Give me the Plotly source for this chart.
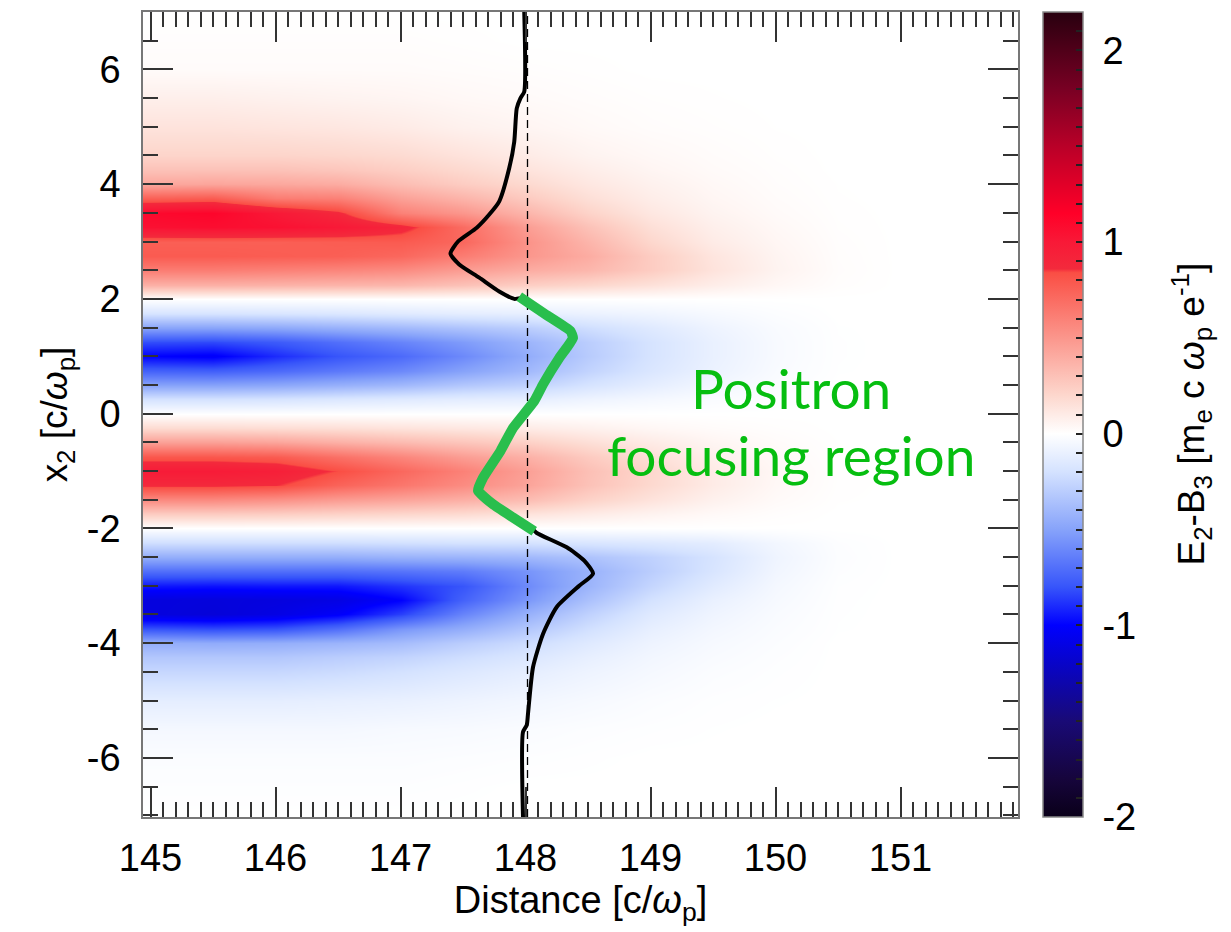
import numpy as np
import plotly.graph_objects as go

# ---------------- data ----------------
x_cols = [145, 145.5, 146, 146.5, 147, 147.5, 148, 148.5, 149, 149.5, 150, 150.5, 151, 152]

y_rows = [-7, -6.5, -6, -5.5, -5, -4.5,
          -4.25, -4, -3.75, -3.5, -3.25, -3, -2.75, -2.5, -2.25, -2,
          -1.75, -1.5, -1.25, -1, -0.75, -0.5, -0.25, 0,
          0.25, 0.5, 0.75, 1, 1.25, 1.5, 1.75, 2,
          2.25, 2.5, 2.75, 3, 3.25, 3.5, 3.75, 4, 4.25, 4.5,
          5, 5.5, 6, 6.5, 7]

# E2-B3 profile along x2 for each distance column (same order as y_rows)
col_145_0 = [0, -0.01, -0.02, -0.05, -0.12, -0.25,
             -0.33, -0.45, -0.8, -1.12, -1.12, -0.95, -0.7, -0.45, -0.22, 0,
             0.25, 0.55, 0.88, 0.98, 0.8, 0.45, 0.18, 0,
             -0.2, -0.5, -0.75, -1.0, -0.82, -0.5, -0.18, 0,
             0.38, 0.62, 0.78, 0.76, 1.05, 1.1, 0.75, 0.42, 0.3, 0.21,
             0.14, 0.08, 0.02, 0.01, 0]
col_145_5 = [0, -0.01, -0.02, -0.05, -0.12, -0.25,
             -0.33, -0.46, -0.82, -1.14, -1.13, -0.96, -0.7, -0.45, -0.22, 0,
             0.25, 0.55, 0.88, 0.98, 0.8, 0.45, 0.18, 0,
             -0.2, -0.5, -0.76, -1.02, -0.83, -0.5, -0.18, 0,
             0.38, 0.62, 0.78, 0.76, 1.07, 1.12, 0.77, 0.43, 0.3, 0.21,
             0.14, 0.08, 0.02, 0.01, 0]
col_146_0 = [0, -0.01, -0.02, -0.05, -0.12, -0.25,
             -0.33, -0.45, -0.8, -1.1, -1.12, -0.95, -0.7, -0.45, -0.22, 0,
             0.24, 0.52, 0.86, 0.95, 0.78, 0.43, 0.17, 0,
             -0.19, -0.48, -0.72, -0.9, -0.78, -0.48, -0.17, 0,
             0.37, 0.6, 0.77, 0.76, 1.05, 1.0, 0.62, 0.42, 0.3, 0.21,
             0.13, 0.07, 0.02, 0.01, 0]
col_146_5 = [0, -0.01, -0.02, -0.05, -0.11, -0.23,
             -0.3, -0.42, -0.7, -1.02, -1.1, -0.95, -0.7, -0.45, -0.22, 0,
             0.22, 0.47, 0.74, 0.84, 0.68, 0.38, 0.16, 0,
             -0.17, -0.44, -0.66, -0.8, -0.7, -0.44, -0.16, 0,
             0.36, 0.58, 0.76, 0.77, 1.0, 0.88, 0.6, 0.4, 0.28, 0.2,
             0.12, 0.06, 0.02, 0.01, 0]
col_147_0 = [0, -0.01, -0.02, -0.04, -0.1, -0.2,
             -0.27, -0.38, -0.55, -0.85, -1.0, -0.88, -0.68, -0.43, -0.21, 0,
             0.2, 0.43, 0.65, 0.72, 0.58, 0.33, 0.14, 0,
             -0.15, -0.4, -0.6, -0.72, -0.62, -0.4, -0.14, 0,
             0.35, 0.55, 0.72, 0.78, 0.9, 0.6, 0.45, 0.32, 0.24, 0.18,
             0.1, 0.05, 0.02, 0.01, 0]
col_147_5 = [0, -0.005, -0.015, -0.035, -0.08, -0.16,
             -0.22, -0.3, -0.45, -0.62, -0.75, -0.8, -0.65, -0.42, -0.2, 0,
             0.18, 0.38, 0.55, 0.6, 0.47, 0.28, 0.12, 0,
             -0.13, -0.33, -0.5, -0.6, -0.53, -0.35, -0.12, 0,
             0.3, 0.47, 0.62, 0.72, 0.7, 0.5, 0.36, 0.25, 0.19, 0.14,
             0.07, 0.035, 0.015, 0.005, 0]
col_148_0 = [0, 0, -0.01, -0.025, -0.06, -0.12,
             -0.17, -0.23, -0.33, -0.44, -0.55, -0.6, -0.56, -0.4, -0.2, 0,
             0.14, 0.32, 0.44, 0.46, 0.38, 0.23, 0.1, 0,
             -0.12, -0.28, -0.4, -0.46, -0.42, -0.3, -0.11, 0,
             0.24, 0.4, 0.5, 0.52, 0.47, 0.36, 0.26, 0.19, 0.14, 0.1,
             0.05, 0.025, 0.01, 0, 0]
col_148_5 = [0, 0, -0.005, -0.015, -0.04, -0.08,
             -0.11, -0.15, -0.21, -0.28, -0.36, -0.42, -0.43, -0.35, -0.18, 0,
             0.1, 0.22, 0.3, 0.31, 0.26, 0.16, 0.07, 0,
             -0.08, -0.19, -0.27, -0.31, -0.3, -0.22, -0.09, 0,
             0.2, 0.35, 0.4, 0.36, 0.3, 0.22, 0.16, 0.12, 0.09, 0.06,
             0.03, 0.015, 0.005, 0, 0]
col_149_0 = [0, 0, 0, -0.008, -0.02, -0.045,
             -0.06, -0.08, -0.11, -0.15, -0.2, -0.26, -0.3, -0.28, -0.16, 0,
             0.06, 0.14, 0.19, 0.2, 0.16, 0.1, 0.04, 0,
             -0.05, -0.12, -0.17, -0.19, -0.19, -0.15, -0.07, 0,
             0.15, 0.25, 0.25, 0.2, 0.16, 0.12, 0.09, 0.07, 0.05, 0.035,
             0.015, 0.007, 0, 0, 0]
col_149_5 = [0, 0, 0, -0.003, -0.008, -0.02,
             -0.03, -0.04, -0.055, -0.075, -0.1, -0.14, -0.18, -0.19, -0.13, 0,
             0.03, 0.07, 0.1, 0.1, 0.08, 0.05, 0.02, 0,
             -0.025, -0.06, -0.09, -0.1, -0.1, -0.08, -0.04, 0,
             0.09, 0.14, 0.13, 0.1, 0.08, 0.06, 0.045, 0.035, 0.025, 0.018,
             0.008, 0.003, 0, 0, 0]
col_150_0 = [0, 0, 0, 0, -0.003, -0.008,
             -0.012, -0.017, -0.023, -0.03, -0.04, -0.05, -0.065, -0.075, -0.06, 0,
             0.01, 0.025, 0.035, 0.04, 0.03, 0.02, 0.008, 0,
             -0.008, -0.02, -0.03, -0.035, -0.035, -0.03, -0.015, 0,
             0.04, 0.06, 0.055, 0.045, 0.035, 0.025, 0.018, 0.013, 0.01, 0.006,
             0.002, 0, 0, 0, 0]
col_150_5 = [0, 0, 0, 0, 0, 0,
             0, 0, -0.003, -0.004, -0.005, -0.007, -0.012, -0.015, -0.012, 0,
             0, 0.003, 0.005, 0.005, 0.004, 0.002, 0, 0,
             0, 0, -0.003, -0.004, -0.004, -0.003, 0, 0,
             0.01, 0.014, 0.012, 0.01, 0.007, 0.005, 0.003, 0.002, 0, 0,
             0, 0, 0, 0, 0]
col_151_0 = [0] * 47
col_152_0 = [0] * 47

field_cols = [col_145_0, col_145_5, col_146_0, col_146_5, col_147_0, col_147_5,
              col_148_0, col_148_5, col_149_0, col_149_5, col_150_0, col_150_5,
              col_151_0, col_152_0]

# lineout of the field (black), top to bottom
line_x = [147.99, 147.99, 147.96, 147.93, 147.91, 147.87, 147.79, 147.71, 147.61,
          147.46, 147.40, 147.47, 147.63, 147.79, 147.91, 147.96,
          148.16, 148.36, 148.38, 148.27, 148.14, 148.07, 147.90, 147.80,
          147.66, 147.62, 147.74, 147.90, 148.06,
          148.09, 148.33, 148.47, 148.54, 148.43, 148.25, 148.14, 148.06,
          148.02, 148.01, 147.98, 147.98]
line_y = [7.0, 5.61, 5.50, 5.32, 4.74, 4.28, 3.70, 3.47, 3.24,
          3.0, 2.79, 2.60, 2.37, 2.13, 2.0, 2.01,
          1.73, 1.44, 1.32, 0.97, 0.51, 0.22, -0.25, -0.65,
          -1.12, -1.34, -1.58, -1.81, -2.02,
          -2.08, -2.33, -2.56, -2.79, -3.0, -3.37, -3.84, -4.42,
          -5.23, -5.43, -5.55, -7.03]

# positron focusing part of the lineout (green)
green_x = [147.95, 148.16, 148.36, 148.38, 148.33, 148.27, 148.14, 148.07,
           147.90, 147.80, 147.66, 147.62, 147.74, 147.90, 148.07]
green_y = [2.04, 1.73, 1.44, 1.32, 1.15, 0.97, 0.51, 0.22,
           -0.25, -0.65, -1.12, -1.34, -1.58, -1.81, -2.05]

ref_x = [148.016, 148.016]
ref_y = [-7.03, 7.0]

x_ticks = [145, 146, 147, 148, 149, 150, 151]
x_ticklabels = ["145", "146", "147", "148", "149", "150", "151"]
y_ticks = [-6, -4, -2, 0, 2, 4, 6]
y_ticklabels = ["-6", "-4", "-2", "0", "2", "4", "6"]
cbar_ticks = [-2, -1, 0, 1, 2]
cbar_ticklabels = ["-2", "-1", "0", "1", "2"]

cs_values = [-2.0, -1.8, -1.5, -1.2, -1.0, -0.8, -0.5, -0.2, 0.0, 0.2, 0.5,
             0.84, 0.86, 1.0, 1.15, 1.5, 1.8, 2.0, 2.2]
cs_colors = ["rgb(10,0,25)", "rgb(22,5,60)", "rgb(25,10,118)", "rgb(8,4,200)",
             "rgb(0,0,255)", "rgb(55,85,250)", "rgb(135,163,250)", "rgb(212,226,255)",
             "rgb(255,255,255)", "rgb(253,215,205)", "rgb(251,150,140)",
             "rgb(250,78,68)", "rgb(243,42,60)", "rgb(248,25,55)", "rgb(255,0,40)",
             "rgb(185,0,40)", "rgb(120,0,35)", "rgb(80,0,25)", "rgb(40,0,15)"]

# ---------------- figure ----------------
zmin, zmax = cs_values[0], cs_values[-1]
colorscale = [[(v - zmin) / (zmax - zmin), c] for v, c in zip(cs_values, cs_colors)]
z = np.array(field_cols, dtype=float).T

cb_vals = [round(v, 1) for v in np.arange(-2.0, 2.201, 0.1)]
cb_text = []
for v in cb_vals:
    lab = ""
    for t, s in zip(cbar_ticks, cbar_ticklabels):
        if abs(v - t) < 1e-6:
            lab = "\u00a0" + s
    cb_text.append(lab)

FONT = "Liberation Sans, Arial, Helvetica, sans-serif"
PLOT_L, PLOT_W = 143, 875

fig = go.Figure()
fig.add_trace(go.Heatmap(
    x=x_cols, y=y_rows, z=z, zmin=zmin, zmax=zmax, zsmooth="best",
    colorscale=colorscale, showscale=True,
    colorbar=dict(
        x=(1043 - PLOT_L) / PLOT_W, xanchor="left", xpad=0,
        y=0.5, yanchor="middle", ypad=0, len=1, lenmode="fraction",
        thickness=40, thicknessmode="pixels",
        outlinecolor="#888", outlinewidth=1.5,
        tickmode="array", tickvals=cb_vals, ticktext=cb_text,
        ticks="inside", ticklen=7, tickwidth=1.5, tickcolor="#222",
        tickfont=dict(family=FONT, size=38, color="black"),
    ),
    hoverinfo="skip",
))
fig.add_trace(go.Scatter(x=ref_x, y=ref_y, mode="lines",
                         line=dict(color="black", width=1.3, dash="8px,5px"),
                         showlegend=False, hoverinfo="skip"))
fig.add_trace(go.Scatter(x=line_x, y=line_y, mode="lines",
                         line=dict(color="black", width=4, shape="spline", smoothing=0.6),
                         showlegend=False, hoverinfo="skip"))
fig.add_trace(go.Scatter(x=green_x, y=green_y, mode="lines",
                         line=dict(color="#29BE4D", width=10, shape="spline", smoothing=0.4),
                         showlegend=False, hoverinfo="skip"))

TXT = dict(family="Lato, Open Sans, sans-serif", size=55, color="#06BE10")
fig.add_annotation(x=150.12, y=0.45, xref="x", yref="y", text="Positron",
                   showarrow=False, font=TXT, xanchor="center", yanchor="middle")
fig.add_annotation(x=150.12, y=-0.72, xref="x", yref="y", text="focusing region",
                   showarrow=False, font=TXT, xanchor="center", yanchor="middle")

# colour bar title
fig.add_annotation(x=(1191 - PLOT_L) / PLOT_W, y=0.5, xref="paper", yref="paper",
                   text="E<sub>2</sub>-B<sub>3</sub> [m<sub>e</sub> c <i>ω</i><sub>p</sub> e<sup>-1</sup>]",
                   textangle=-90, showarrow=False, xanchor="center", yanchor="middle",
                   font=dict(family=FONT, size=37, color="black"))

axis_common = dict(
    ticks="inside", ticklen=30, tickwidth=1.5, tickcolor="#333",
    showline=True, linecolor="#777", linewidth=1.5, mirror="ticks",
    showgrid=False, zeroline=False,
    tickfont=dict(family=FONT, size=38, color="black"),
)

fig.update_layout(
    width=1231, height=932,
    margin=dict(l=143, r=213, t=10, b=115),
    paper_bgcolor="white", plot_bgcolor="white",
    showlegend=False,
    xaxis=dict(range=[144.94, 151.94], tickmode="array", tickvals=x_ticks,
               ticktext=x_ticklabels,
               minor=dict(ticks="inside", ticklen=15, tickwidth=1.5, tickcolor="#333",
                          dtick=0.1, tick0=145, showgrid=False),
               ticklabelstandoff=7,
               title=dict(text="Distance [c/<i>ω</i><sub>p</sub>]",
                          font=dict(family=FONT, size=38, color="black"), standoff=2),
               **axis_common),
    yaxis=dict(range=[-7.03, 7.0], tickmode="array", tickvals=y_ticks,
               ticktext=y_ticklabels,
               minor=dict(ticks="inside", ticklen=15, tickwidth=1.5, tickcolor="#333",
                          dtick=0.5, tick0=0, showgrid=False),
               ticklabelstandoff=13,
               title=dict(text="x<sub>2</sub> [c/<i>ω</i><sub>p</sub>]",
                          font=dict(family=FONT, size=37, color="black"), standoff=8),
               **axis_common),
)

fig.write_html("out.html")
